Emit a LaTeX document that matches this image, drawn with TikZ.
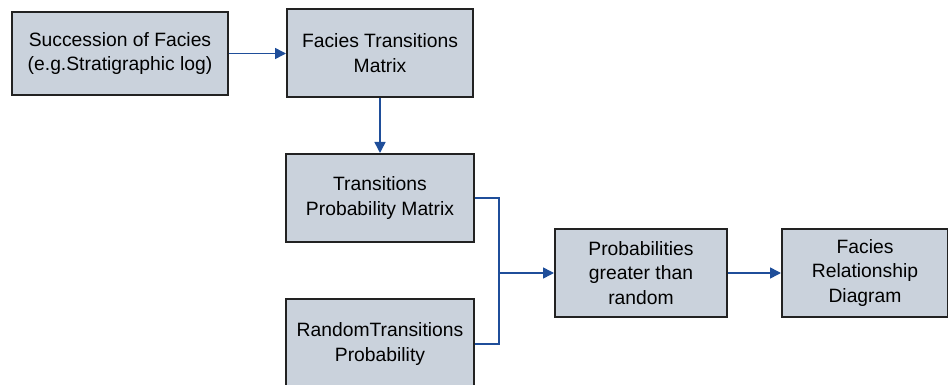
\documentclass[tikz,border=0pt]{standalone}
\usepackage{fontspec}
\setmainfont{Liberation Sans}
\usetikzlibrary{arrows.meta}
\definecolor{boxfill}{HTML}{CAD2DC}
\definecolor{boxline}{HTML}{222222}
\definecolor{linkblue}{HTML}{1F4E9A}
\begin{document}
\begin{tikzpicture}[x=1pt,y=1pt,
  box/.style={draw=boxline, line width=2pt, fill=boxfill, align=center,
    inner sep=0pt, font=\fontsize{19.3}{24.5}\selectfont},
  link/.style={draw=linkblue, line width=1.5pt},
  linkarrow/.style={link, -{Triangle[length=11pt,width=11pt]}}]
\useasboundingbox (0,0) rectangle (948,-385);
\node[box, minimum width=216pt, minimum height=83pt] (A) at (120,-53.5) {Succession of Facies\\(e.g.Stratigraphic log)};
\node[box, minimum width=186pt, minimum height=88pt] (B) at (380,-53) {Facies Transitions\\Matrix};
\node[box, minimum width=188pt, minimum height=88pt] (C) at (380,-198) {Transitions\\Probability Matrix};
\node[box, minimum width=188pt, minimum height=90pt] (D) at (380,-344) {RandomTransitions\\Probability};
\node[box, minimum width=172pt, minimum height=88pt] (E) at (641,-273) {Probabilities\\greater than\\random};
\node[box, minimum width=166pt, minimum height=88pt] (F) at (865,-273) {Facies\\Relationship\\Diagram};
\coordinate (J) at (499,-273);
\draw[linkarrow] (A.east) -- (A.east -| B.west);
\draw[linkarrow] (B.south) -- (C.north);
\draw[link] (C.east) -| (J);
\draw[link] (D.east) -| (J);
\draw[linkarrow] (J) -- (E.west);
\draw[linkarrow] (E.east) -- (F.west);
\end{tikzpicture}
\end{document}
